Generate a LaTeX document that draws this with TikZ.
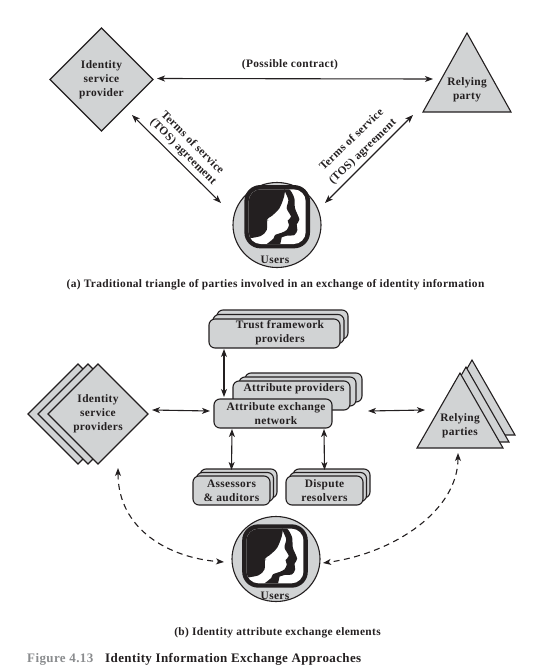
\documentclass[tikz,border=0pt]{standalone}
\usepackage{fontspec}
\setmainfont{Liberation Serif}[LetterSpace=3]
\usetikzlibrary{arrows.meta,shapes.geometric,calc}
\definecolor{ink}{HTML}{231F20}
\definecolor{boxgray}{HTML}{D1D3D4}
\definecolor{figgray}{HTML}{8A8C8E}
\tikzset{
  lbl/.style={font=\fontsize{11.4}{14}\selectfont\bfseries,text=ink,align=center,inner sep=0pt},
  shapeline/.style={draw=ink,fill=boxgray,line width=1.1pt,inner sep=0pt,outer sep=0pt,line join=miter},
  diam/.style={shapeline,diamond,minimum width=#1,minimum height=#1,lbl},
  tri/.style={shapeline,isosceles triangle,shape border rotate=90,isosceles triangle stretches,anchor=apex},
  rbox/.style={shapeline,rectangle,rounded corners=6pt,lbl},
  usercirc/.style={shapeline,ellipse,minimum width=88pt,minimum height=85pt},
  both/.style={draw=ink,line width=1.1pt,{Stealth[length=8pt,width=6pt,inset=2.2pt]}-{Stealth[length=8pt,width=6pt,inset=2.2pt]}},
  bothdash/.style={both,dash pattern=on 6pt off 4.5pt},
  userface/.pic={
    \begin{scope}[scale=0.3333,shift={(-111.5,-110)}]
      \fill[ink,rounded corners=16pt] (13,15) rectangle (210,205);
      \fill[white,rounded corners=12pt] (26,28) rectangle (197,192);
      \begin{scope}
        \clip[rounded corners=12pt] (26,28) rectangle (197,192);
        \fill[ink] plot[smooth] coordinates {(136,20) (132,50) (118,85) (95,108) (82,118) (80,150) (62,168) (20,176)} -- (20,20) -- cycle;
        \fill[ink] plot[smooth] coordinates {(130,22) (150,30) (163,55) (165,85) (178,118) (170,133) (172,150) (163,165) (140,167) (125,172)} -- (120,196) -- (75,196) -- plot[smooth] coordinates {(75,196) (100,176) (105,165) (125,158) (140,150) (147,135) (143,122) (153,110) (140,85) (145,60) (135,35) (130,22)} -- cycle;
      \end{scope}
      \fill[gray!70] (83,121) circle (2.5);
    \end{scope}
  }
}
\begin{document}
\begin{tikzpicture}[x=1pt,y=-1pt]
\useasboundingbox (0,0) rectangle (538,670);

% ---- part (a)
\node[diam=103pt] (idp) at (101.5,79.5) {Identity\\service\\provider};
\node[shapeline,tri,minimum width=88pt,minimum height=79pt] (rp) at (467,33) {};
\node[lbl] (rptext) at (467,90) {Relying\\party};
\node[usercirc] (users) at (277,225) {};
\pic at (277.2,216.7) {userface};
\node[lbl] (userstext) at (275,259.5) {Users};
\node[lbl] (contract) at (290,65) {(Possible contract)};
\draw[both] ($(idp.east)+(4,-1)$) -- ($(rp.apex)+(-34,46)$);
\draw[both] ($(idp.south)+(30.5,-16)$) -- ($(users.center)+(-56,-22)$);
\draw[both] ($(users.center)+(48,-22)$) -- ($(rp.apex)+(-54,82)$);
\node[lbl,rotate=-45] (tosl1) at (193,142) {Terms of service};
\node[lbl,rotate=-45] (tosl2) at (183,152) {(TOS) agreement};
\node[lbl,rotate=44] (tosr1) at (351,139) {Terms of service};
\node[lbl,rotate=44] (tosr2) at (363,152) {(TOS) agreement};
\node[lbl] (capa) at (275.5,285) {(a) Traditional triangle of parties involved in an exchange of identity information};

% ---- part (b): stacked boxes
\node[rbox,minimum width=131pt,minimum height=29pt] (trust3) at (282.5,324.5) {};
\node[rbox,minimum width=131pt,minimum height=29pt] (trust2) at (278.5,329) {};
\node[rbox,minimum width=131pt,minimum height=29pt] (trust) at (274.5,333.5) {};
\node[lbl] (trusttext) at (280,333) {Trust framework\\providers};

\node[rbox,minimum width=117pt,minimum height=29pt] (ap3) at (303.5,387.5) {};
\node[rbox,minimum width=117pt,minimum height=29pt] (ap2) at (297.5,391.5) {};
\node[rbox,minimum width=117pt,minimum height=29pt] (ap) at (291.5,395.5) {};
\node[lbl] (aptext) at (294,389) {Attribute providers};
\node[rbox,minimum width=118pt,minimum height=29pt] (aen) at (273,413.5) {};
\node[lbl] (aentext) at (276,414) {Attribute exchange\\network};

\node[rbox,minimum width=77pt,minimum height=29pt] (as3) at (238.5,483.5) {};
\node[rbox,minimum width=77pt,minimum height=29pt] (as2) at (235,487) {};
\node[rbox,minimum width=77pt,minimum height=29pt] (as) at (231.5,490.5) {Assessors\\\&\ auditors};

\node[rbox,minimum width=77pt,minimum height=29pt] (dr3) at (331.5,483.5) {};
\node[rbox,minimum width=77pt,minimum height=29pt] (dr2) at (328,487) {};
\node[rbox,minimum width=77pt,minimum height=29pt] (dr) at (324.5,490.5) {Dispute\\resolvers};

\draw[both] ($(trust.south west)+(15,1)$) -- ($(aen.north west)+(10,-2)$);
\draw[both] ($(aen.south west)+(18,1)$) -- ($(as.north)+(0,-6)$);
\draw[both] ($(aen.south west)+(110,1)$) -- ($(dr.north)+(0,-6)$);

% diamonds
\node[diam=100pt] (idps3) at (78,414) {};
\node[diam=100pt] (idps2) at (88,414) {};
\node[diam=100pt] (idps) at (98,414) {Identity\\service\\providers};

% triangles
\node[shapeline,tri,minimum width=86pt,minimum height=75pt] (rps3) at (472,360) {};
\node[shapeline,tri,minimum width=86pt,minimum height=75pt] (rps2) at (466,367) {};
\node[shapeline,tri,minimum width=86pt,minimum height=75pt] (rps) at (460,373) {};
\node[lbl] (rpstext) at (460,425.5) {Relying\\parties};

\node[usercirc] (users2) at (276,559) {};
\pic at (275,556) {userface};
\node[lbl] (users2text) at (275,596) {Users};

\draw[both] ($(idps.east)+(4,-4)$) -- ($(aen.west)+(-4,-2.5)$);
\draw[both] ($(aen.east)+(36,-2.5)$) -- ($(rps.apex)+(-35,37)$);

\draw[bothdash] ($(idps.south)+(20,4)$) .. controls (118,530) and (170,558) .. ($(users2.west)+(-8,3)$);
\draw[bothdash] ($(rps.apex)+(-2,80)$) .. controls (458,510) and (395,553) .. ($(users2.east)+(3,4)$);

\node[lbl] (capb) at (277.5,633) {(b) Identity attribute exchange elements};

\node[lbl,font=\fontsize{13}{14}\selectfont\bfseries,text=figgray,anchor=west] (fignum) at (27,659) {Figure 4.13};
\node[lbl,font=\fontsize{13}{14}\selectfont\bfseries,anchor=west] (figtitle) at (105,659) {Identity Information Exchange Approaches};
\end{tikzpicture}
\end{document}
